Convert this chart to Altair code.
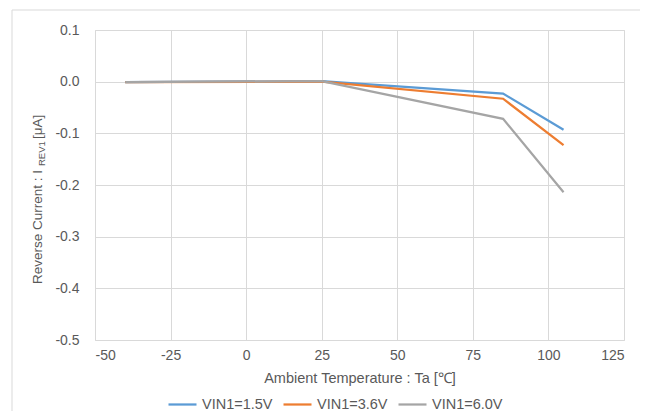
import altair as alt
import pandas as pd

temps = [-40, 25, 85, 105]
v15 = [-0.001, 0.001, -0.023, -0.093]
v36 = [-0.001, 0.000, -0.033, -0.123]
v60 = [-0.001, 0.001, -0.072, -0.214]
series = ["VIN1=1.5V", "VIN1=3.6V", "VIN1=6.0V"]
colors = ["#5B9BD5", "#ED7D31", "#A5A5A5"]
x_ticks = [-50, -25, 0, 25, 50, 75, 100, 125]
y_ticks = [0.1, 0.0, -0.1, -0.2, -0.3, -0.4, -0.5]

rows = []
for name, vals in zip(series, [v15, v36, v60]):
    for t, v in zip(temps, vals):
        rows.append({"Ta": t, "I": v, "series": name})
df = pd.DataFrame(rows)

FONT = "Liberation Sans"
GREY = "#595959"
FS = 14

lines = alt.Chart(df).mark_line(strokeWidth=2.25, clip=False).encode(
    x=alt.X("Ta:Q", scale=alt.Scale(domain=[-50, 125], nice=False),
            axis=alt.Axis(values=x_ticks, title="Ambient Temperature : Ta [℃]",
                          labelExpr="datum.value < 0 ? '-' + format(-datum.value, 'd') : format(datum.value, 'd')",
                          grid=True, gridColor="#D9D9D9", ticks=False, domain=False,
                          labelPadding=8, titlePadding=9, labelFontSize=FS, titleFontSize=14.5,
                          titleFontWeight="normal", labelColor=GREY, titleColor=GREY,
                          labelFont=FONT, titleFont=FONT)),
    y=alt.Y("I:Q", scale=alt.Scale(domain=[-0.5, 0.1], nice=False),
            axis=alt.Axis(values=y_ticks, title=None,
                          labelExpr="datum.value < -0.0001 ? '-' + format(-datum.value, '.1f') : format(abs(datum.value), '.1f')",
                          grid=True, gridColor="#D9D9D9", ticks=False, domain=False,
                          labelPadding=16, labelFontSize=FS, labelColor=GREY, labelFont=FONT)),
    color=alt.Color("series:N", scale=alt.Scale(domain=series, range=colors),
                    legend=alt.Legend(title=None, orient="none", legendX=72, legendY=359,
                                      direction="horizontal", symbolType="stroke",
                                      symbolStrokeWidth=2.25, symbolSize=784,
                                      labelFontSize=14.5, labelColor=GREY, labelFont=FONT,
                                      columnPadding=6, labelOffset=4)),
)

border = alt.Chart(pd.DataFrame({"a": [0]})).mark_rect(
    fill=None, stroke="#D9D9D9", strokeWidth=1, clip=False
).encode(x=alt.value(-83), x2=alt.value(547), y=alt.value(-20), y2=alt.value(430))

t_df = pd.DataFrame({"a": [0]})
t1 = alt.Chart(t_df).mark_text(text="Reverse Current : I", angle=270, align="right", baseline="middle",
                               fontSize=13.5, font=FONT, color=GREY).encode(
    x=alt.value(-57), y=alt.value(140))
t2 = alt.Chart(t_df).mark_text(text="REV1", angle=270, align="left", baseline="middle",
                               fontSize=9.5, font=FONT, color=GREY).encode(
    x=alt.value(-53), y=alt.value(136))
t3 = alt.Chart(t_df).mark_text(text="[μA]", angle=270, align="left", baseline="middle",
                               fontSize=13.5, font=FONT, color=GREY).encode(
    x=alt.value(-57), y=alt.value(109))

chart = alt.layer(border, lines, t1, t2, t3).properties(
    width=529, height=310,
    autosize=alt.AutoSizeParams(type="none"),
    padding={"left": 87, "top": 22, "right": 16, "bottom": 75},
).configure_view(stroke="#D9D9D9").configure(font=FONT)

chart.save("out.html", embed_options={"renderer": "svg", "actions": False})
